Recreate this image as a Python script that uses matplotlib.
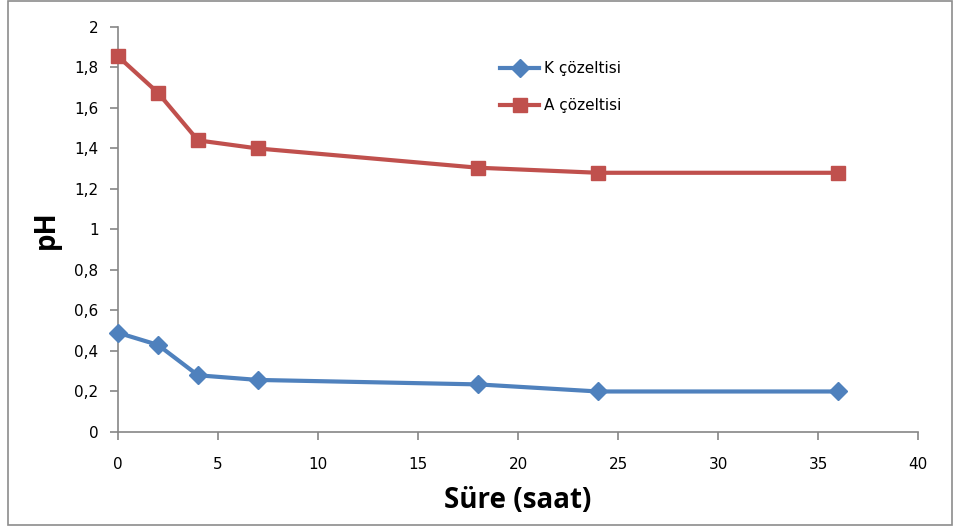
import matplotlib.pyplot as plt
from matplotlib.patches import Rectangle
from matplotlib.ticker import FuncFormatter

plt.rcParams["font.family"] = ["DejaVu Sans"]

# sampling times (hours) and pH readings
sure = [0, 2, 4, 7, 18, 24, 36]
k_ph = [0.49, 0.43, 0.28, 0.257, 0.235, 0.2, 0.2]
a_ph = [1.855, 1.675, 1.44, 1.40, 1.305, 1.28, 1.28]

fig = plt.figure(figsize=(9.56, 5.29), dpi=100)
ax = fig.add_axes([0.1234, 0.1834, 0.8369, 0.7656])

# chart frame
fig.patches.append(Rectangle((8 / 956, 4 / 529), 944 / 956, 524 / 529,
                             transform=fig.transFigure, fill=False,
                             edgecolor="#8c8c8c", linewidth=1.2))

ax.plot(sure, k_ph, color="#4F81BD", linewidth=3, marker="D",
        markersize=9, label="K çözeltisi", clip_on=False, zorder=3)
ax.plot(sure, a_ph, color="#C0504D", linewidth=3, marker="s",
        markersize=10, label="A çözeltisi", clip_on=False, zorder=3)

ax.set_xlim(0, 40)
ax.set_ylim(0, 2)
ax.set_xticks(range(0, 41, 5))
ax.set_yticks([i / 10 for i in range(0, 21, 2)])
ax.yaxis.set_major_formatter(FuncFormatter(lambda v, p: f"{v:g}".replace(".", ",")))

for s in ["top", "right"]:
    ax.spines[s].set_visible(False)
for s in ["left", "bottom"]:
    ax.spines[s].set_color("#868686")
    ax.spines[s].set_linewidth(1.2)
ax.tick_params(axis="both", colors="#868686", length=6, width=1.2,
               labelsize=11, labelcolor="black")
ax.tick_params(axis="x", pad=12)
ax.tick_params(axis="y", pad=8)

ax.set_xlabel("Süre (saat)", fontsize=20, fontweight="bold", labelpad=10,
              family="Open Sans")
ax.set_ylabel("pH", fontsize=20, fontweight="bold", labelpad=10,
              family="Open Sans")

ax.legend(loc="upper left", bbox_to_anchor=(0.46, 0.95), frameon=False,
          fontsize=11, handlelength=2.6, labelspacing=1.45, handletextpad=0.3)

fig.savefig("out.png", dpi=100)
